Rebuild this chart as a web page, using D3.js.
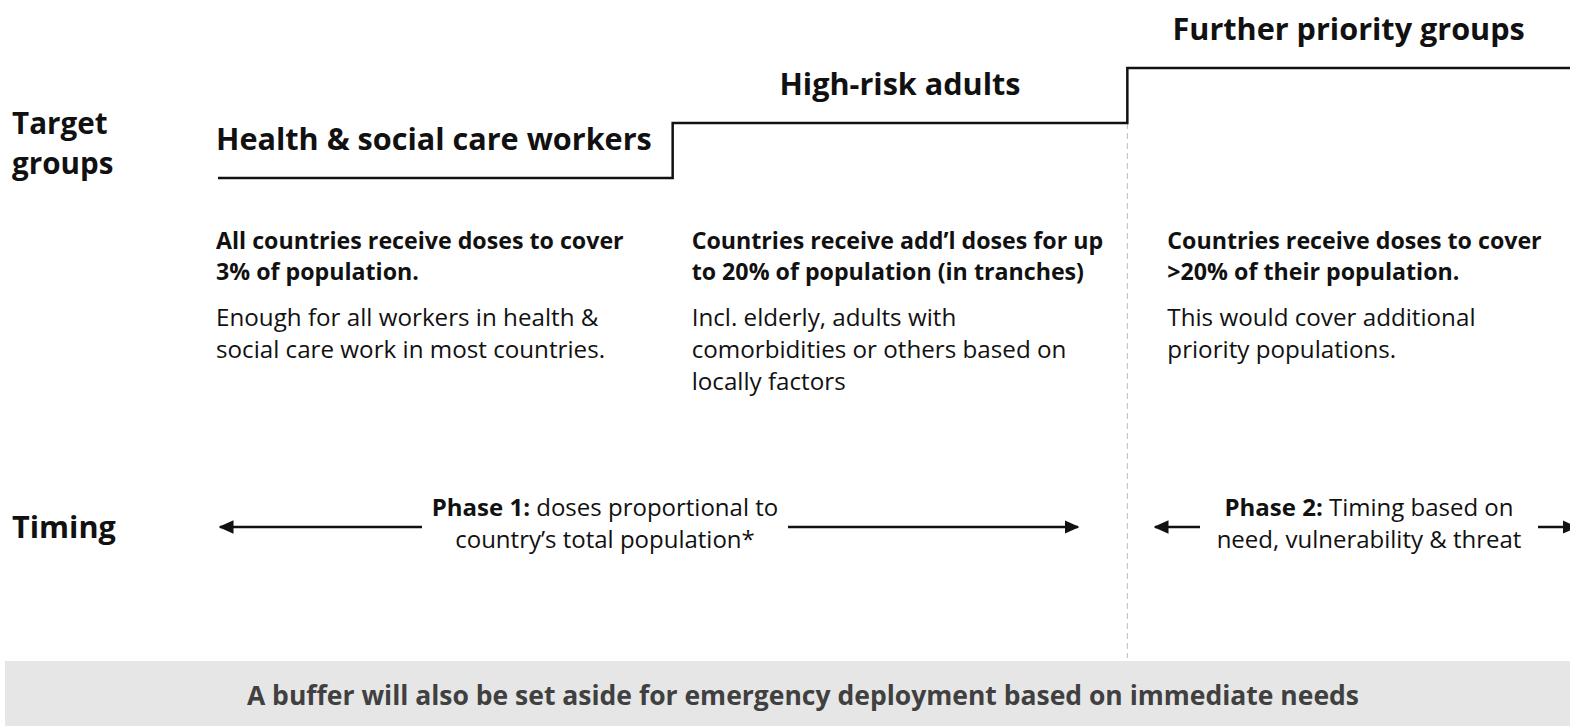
<!DOCTYPE html>
<html>
<head>
<meta charset="utf-8">
<script src="https://cdn.jsdelivr.net/npm/d3@7"></script>
<style>
  body { margin: 0; background: #fff; }
  svg { display: block; font-family: "Open Sans", sans-serif; }
</style>
</head>
<body>
<div id="chart"></div>
<script>
// Data
const groups = ['Health & social care workers', 'High-risk adults', 'Further priority groups'];
const groupLevels = [1, 2, 3];
const boldText = [
    ['All countries receive doses to cover', '3% of population.'],
    ['Countries receive add\u2019l doses for up', 'to 20% of population (in tranches)'],
    ['Countries receive doses to cover', '>20% of their population.']
];
const plainText = [
    ['Enough for all workers in health &', 'social care work in most countries.'],
    ['Incl. elderly, adults with', 'comorbidities or others based on', 'locally factors'],
    ['This would cover additional', 'priority populations.']
];
const phaseLabels = ['Phase 1:', 'Phase 2:'];
const phaseText = [
    [' doses proportional to', 'country\u2019s total population*'],
    [' Timing based on', 'need, vulnerability & threat']
];
const phaseSpans = [[0, 2], [2, 3]];
const rowLabels = [['Target', 'groups'], ['Timing']];
const bufferNote = 'A buffer will also be set aside for emergency deployment based on immediate needs';

// Config
const W = 1570, H = 726;
const configs = {
    titleSize: 30.6,
    rowSize: 29.6,
    boldSize: 23.2,
    plainSize: 24.2,
    phaseSize: 24,
    noteSize: 26.5,
    ink: '#111'
};

const svg = d3.select('#chart').append('svg')
    .attr('width', W)
    .attr('height', H);

// Scales
const x = d3.scaleLinear().domain([0, 3]).range([218, 1582]);
const y = d3.scaleLinear().domain([1, 3]).range([178, 68]);

// Row labels (one text per line)
svg.selectAll('.row_label').data(rowLabels[0]).join('text')
    .attr('class', 'row_label')
    .attr('x', 12).attr('y', (d, i) => 134 + i * 40)
    .attr('font-size', configs.rowSize).attr('font-weight', 700).attr('fill', configs.ink)
    .text(d => d);
svg.append('text')
    .attr('x', 12).attr('y', 538)
    .attr('font-size', configs.titleSize).attr('font-weight', 700).attr('fill', configs.ink)
    .text(rowLabels[1][0]);

// Dashed divider between phases
svg.append('line')
    .attr('x1', x(2)).attr('x2', x(2))
    .attr('y1', y(2)).attr('y2', 658)
    .attr('stroke', '#bdbdbd')
    .attr('stroke-width', 1)
    .attr('stroke-dasharray', '6,4');

// Staircase
const pts = [];
groupLevels.forEach((lv, i) => {
    pts.push([x(i), y(lv)]);
    pts.push([x(i + 1), y(lv)]);
});
svg.append('path')
    .attr('d', d3.line()(pts))
    .attr('fill', 'none')
    .attr('stroke', configs.ink)
    .attr('stroke-width', 2.5);

// Group titles
svg.selectAll('.group_title').data(groups).join('text')
    .attr('class', 'group_title')
    .attr('x', (d, i) => i === 0 ? x(0) - 2 : (x(i) + Math.min(x(i + 1), W)) / 2)
    .attr('y', (d, i) => y(groupLevels[i]) - 28)
    .attr('text-anchor', (d, i) => i === 0 ? 'start' : 'middle')
    .attr('font-size', configs.titleSize).attr('font-weight', 700).attr('fill', configs.ink)
    .text(d => d);

// Description blocks
const blocks = svg.selectAll('.block').data(groups).join('g')
    .attr('class', 'block')
    .attr('transform', (d, i) => `translate(${x(i) - 2 + i * 21},0)`);
blocks.append('text')
    .attr('font-size', configs.boldSize).attr('font-weight', 700).attr('fill', configs.ink)
    .selectAll('tspan').data((d, i) => boldText[i]).join('tspan')
    .attr('x', 0).attr('y', (d, i) => 249 + i * 31)
    .text(d => d);
blocks.append('text')
    .attr('font-size', configs.plainSize).attr('fill', configs.ink)
    .selectAll('tspan').data((d, i) => plainText[i]).join('tspan')
    .attr('x', 0).attr('y', (d, i) => 326 + i * 32)
    .text(d => d);

// Timing arrows
const defs = svg.append('defs');
defs.append('marker')
    .attr('id', 'head')
    .attr('viewBox', '0 0 10 10')
    .attr('refX', 9).attr('refY', 5)
    .attr('markerWidth', 6).attr('markerHeight', 6)
    .attr('markerUnits', 'strokeWidth')
    .attr('orient', 'auto-start-reverse')
    .append('path')
    .attr('d', 'M0,0.5 L10,5 L0,9.5 Z')
    .attr('fill', configs.ink);

const arrowY = 527;
const phaseEnds = [[220, 1078], [1155, 1576]];
const phaseGap = [[422, 788], [1200, 1538]];
phaseSpans.forEach((s, i) => {
    const cx = (phaseGap[i][0] + phaseGap[i][1]) / 2;
    [[phaseEnds[i][0], phaseGap[i][0]], [phaseGap[i][1], phaseEnds[i][1]]].forEach((seg, k) => {
        svg.append('line')
            .attr('x1', k ? seg[0] : seg[1]).attr('x2', k ? seg[1] : seg[0])
            .attr('y1', arrowY).attr('y2', arrowY)
            .attr('stroke', configs.ink).attr('stroke-width', 2.5)
            .attr('marker-end', 'url(#head)');
    });
    const t = svg.append('text')
        .attr('text-anchor', 'middle')
        .attr('font-size', configs.phaseSize).attr('fill', configs.ink);
    const l1 = t.append('tspan').attr('x', cx).attr('y', 516);
    l1.append('tspan').attr('font-weight', 700).text(phaseLabels[i]);
    l1.append('tspan').text(phaseText[i][0]);
    t.append('tspan').attr('x', cx).attr('y', 548).text(phaseText[i][1]);
});

// Buffer banner
svg.append('rect')
    .attr('x', 5).attr('y', 661)
    .attr('width', W - 5).attr('height', H - 661)
    .attr('fill', '#e6e6e6');
svg.append('text')
    .attr('x', 803).attr('y', 705)
    .attr('text-anchor', 'middle')
    .attr('font-size', configs.noteSize).attr('font-weight', 700).attr('fill', '#404040')
    .text(bufferNote);
</script>
</body>
</html>
